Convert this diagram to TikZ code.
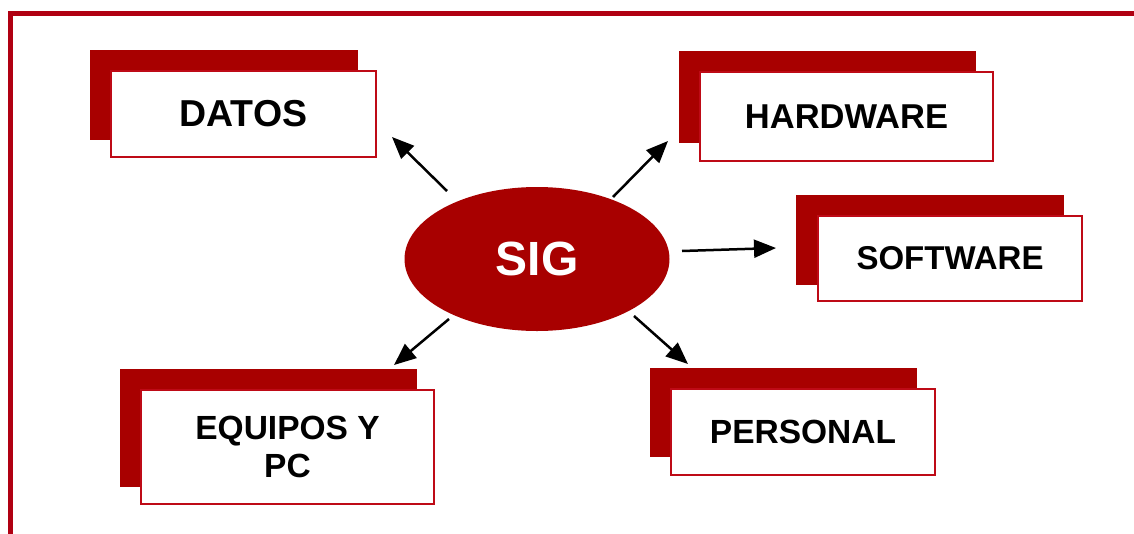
\documentclass[tikz,border=0pt]{standalone}
\usepackage{fontspec}
\setmainfont{Liberation Sans}
\usetikzlibrary{shapes.geometric,arrows.meta}
\definecolor{sigred}{HTML}{A80000}
\definecolor{edgered}{HTML}{BE0A16}
\definecolor{framered}{HTML}{B00012}
\begin{document}
\begin{tikzpicture}[x=1pt, y=-1pt, every node/.style={font=\bfseries},
  backbox/.style={fill=sigred, inner sep=0pt},
  frontbox/.style={draw=edgered, line width=2.5pt, fill=white, inner sep=0pt, align=center},
  arr/.style={line width=2.5pt, -{Triangle[length=22pt,width=18pt]}}]
  \useasboundingbox (0,0) rectangle (1134,533);
  % marco
  \draw[framered, line width=5pt] (10,540) -- (10,13) -- (1140,13);
  % centro
  \node[ellipse, fill=sigred, inner sep=0pt, minimum width=265pt, minimum height=144pt,
        text=white, font=\bfseries\fontsize{48}{50}\selectfont] (sig) at (537,259) {SIG};
  % cajas
  \node[backbox, minimum width=268pt, minimum height=90pt] (datosB) at (224,95) {};
  \node[frontbox, minimum width=265pt, minimum height=86pt,
        font=\bfseries\fontsize{37.5}{40}\selectfont] (datos) at (243.5,114) {DATOS};
  \node[backbox, minimum width=297pt, minimum height=92pt] (hwB) at (827.5,97) {};
  \node[frontbox, minimum width=293pt, minimum height=89pt,
        font=\bfseries\fontsize{34.5}{38}\selectfont] (hw) at (846.5,116.5) {HARDWARE};
  \node[backbox, minimum width=268pt, minimum height=90pt] (swB) at (930,240) {};
  \node[frontbox, minimum width=264pt, minimum height=85pt,
        font=\bfseries\fontsize{33}{36}\selectfont] (sw) at (950,258.5) {SOFTWARE};
  \node[backbox, minimum width=297pt, minimum height=118pt] (eqB) at (268.5,428) {};
  \node[frontbox, minimum width=293pt, minimum height=114pt,
        font=\bfseries\fontsize{33.5}{38}\selectfont] (eq) at (287.5,447) {EQUIPOS Y\\PC};
  \node[backbox, minimum width=267pt, minimum height=89pt] (perB) at (783.5,412.5) {};
  \node[frontbox, minimum width=264pt, minimum height=86pt,
        font=\bfseries\fontsize{33.5}{36}\selectfont] (per) at (803,432) {PERSONAL};
  % flechas
  \coordinate (sDatos) at (447,191);  \coordinate (tDatos) at (392,137);
  \coordinate (sHw)    at (613,197);  \coordinate (tHw)    at (668,141);
  \coordinate (sSw)    at (682,251);  \coordinate (tSw)    at (776,248);
  \coordinate (sEq)    at (449,319);  \coordinate (tEq)    at (394,365);
  \coordinate (sPer)   at (634,316);  \coordinate (tPer)   at (688,364);
  \draw[arr] (sDatos) -- (tDatos);
  \draw[arr] (sHw) -- (tHw);
  \draw[arr] (sSw) -- (tSw);
  \draw[arr] (sEq) -- (tEq);
  \draw[arr] (sPer) -- (tPer);
\end{tikzpicture}
\end{document}
